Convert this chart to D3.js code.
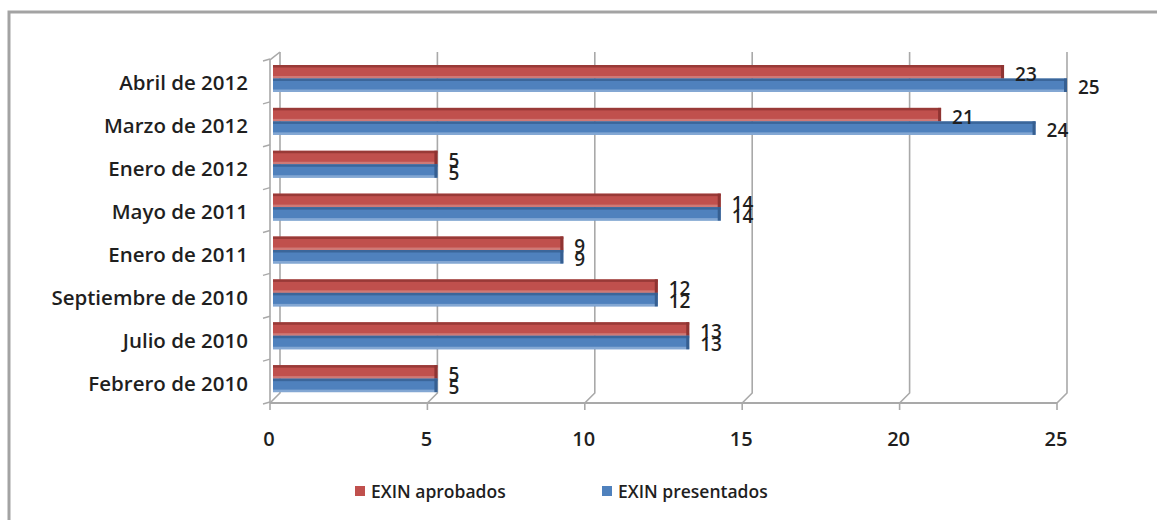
<!DOCTYPE html>
<html>
<head>
<meta charset="utf-8">
<script src="https://cdn.jsdelivr.net/npm/d3@7"></script>
<style>
  body { margin: 0; background: #fff; }
  svg text { font-family: "Open Sans", "Liberation Sans", sans-serif; font-weight: 600; fill: #1f1f1f; }
</style>
</head>
<body>
<svg class="chart" width="1157" height="520"></svg>
<script>
// categories, top to bottom as drawn
var categories = [
  "Abril de 2012", "Marzo de 2012", "Enero de 2012", "Mayo de 2011",
  "Enero de 2011", "Septiembre de 2010", "Julio de 2010", "Febrero de 2010"
];
var aprobados   = [23, 21, 5, 14, 9, 12, 13, 5];
var presentados = [25, 24, 5, 14, 9, 12, 13, 5];
var seriesNames = ["EXIN aprobados", "EXIN presentados"];
var xTicks = [0, 5, 10, 15, 20, 25];

(function() {
  var svg = d3.select(".chart");

  var xBack = d3.scaleLinear().domain([0, 25]).range([280, 1067]);
  var xFront = d3.scaleLinear().domain([0, 25]).range([270, 1057]);
  var y = d3.scaleBand().domain(categories).range([59, 402]);

  var wallTop = 52, wallBottom = 393, floorY = 403;
  var gridColor = "#a9a9a9";

  // outer frame
  svg.append("rect")
    .attr("x", 9).attr("y", 12)
    .attr("width", 1300).attr("height", 700)
    .attr("fill", "none")
    .attr("stroke", "#a3a3a3")
    .attr("stroke-width", 3);

  // back wall gridlines, bending onto the floor
  svg.append("g").selectAll("path")
    .data(xTicks)
    .enter().append("path")
    .attr("fill", "none")
    .attr("stroke", gridColor)
    .attr("stroke-width", 1.6)
    .attr("d", function(d) {
      return "M" + xBack(d) + "," + wallTop +
             "L" + xBack(d) + "," + wallBottom +
             "L" + xFront(d) + "," + floorY;
    });

  // floor front edge + ticks
  svg.append("line")
    .attr("x1", xFront(0)).attr("x2", xFront(25))
    .attr("y1", floorY).attr("y2", floorY)
    .attr("stroke", gridColor).attr("stroke-width", 1.8);

  svg.append("g").selectAll("line")
    .data(xTicks)
    .enter().append("line")
    .attr("x1", function(d) { return xFront(d); })
    .attr("x2", function(d) { return xFront(d); })
    .attr("y1", floorY).attr("y2", floorY + 7)
    .attr("stroke", gridColor).attr("stroke-width", 1.6);

  // left side wall front edge + category ticks
  svg.append("path")
    .attr("fill", "none")
    .attr("stroke", gridColor)
    .attr("stroke-width", 1.6)
    .attr("d", "M" + xBack(0) + "," + wallTop + "L" + xFront(0) + "," + (wallTop + 8) +
               "L" + xFront(0) + "," + floorY);

  var bounds = categories.map(function(c) { return y(c); }).concat([y.range()[1]]);
  svg.append("g").selectAll("line")
    .data(bounds)
    .enter().append("line")
    .attr("x1", xFront(0) - 7).attr("x2", xFront(0))
    .attr("y1", function(d) { return d + 2; })
    .attr("y2", function(d) { return d; })
    .attr("stroke", gridColor).attr("stroke-width", 1.4);

  // bars
  var barH = 13.5, barTop = 6;
  var barStart = xFront(0) + 3;
  var series = [
    { name: seriesNames[0], values: aprobados, fill: "#c0504d", edge: "#8f3432", shade: "#d58a88", dy: 0 },
    { name: seriesNames[1], values: presentados, fill: "#4f81bd", edge: "#365f91", shade: "#9ab8dd", dy: barH }
  ];

  var rows = svg.append("g").selectAll("g")
    .data(categories)
    .enter().append("g")
    .attr("transform", function(d) { return "translate(0," + y(d) + ")"; });

  series.forEach(function(s) {
    rows.append("rect")
      .attr("x", barStart)
      .attr("y", barTop + s.dy)
      .attr("width", function(d, i) { return xBack(s.values[i]) - barStart; })
      .attr("height", barH)
      .attr("fill", s.fill);
    // darker top edge
    rows.append("rect")
      .attr("x", barStart)
      .attr("y", barTop + s.dy)
      .attr("width", function(d, i) { return xBack(s.values[i]) - barStart; })
      .attr("height", 2.5)
      .attr("fill", s.edge)
      .attr("opacity", 0.8);
    // lighter bottom edge
    rows.append("rect")
      .attr("x", barStart)
      .attr("y", barTop + s.dy + barH - 2.5)
      .attr("width", function(d, i) { return xBack(s.values[i]) - barStart; })
      .attr("height", 2.5)
      .attr("fill", s.shade)
      .attr("opacity", 0.7);
    // end cap
    rows.append("rect")
      .attr("x", function(d, i) { return xBack(s.values[i]) - 3; })
      .attr("y", barTop + s.dy)
      .attr("width", 3)
      .attr("height", barH)
      .attr("fill", s.edge);
  });

  // data labels (the two series stack over each other, as in the original)
  series.forEach(function(s, k) {
    rows.append("text")
      .attr("x", function(d, i) { return xBack(s.values[i]) + 11; })
      .attr("y", k === 0 ? 15 : 28)
      .attr("dominant-baseline", "central")
      .style("font-size", "19px")
      .text(function(d, i) { return s.values[i]; });
  });

  // category labels
  rows.append("text")
    .attr("x", 248)
    .attr("y", y.bandwidth() / 2 + 2)
    .attr("text-anchor", "end")
    .attr("dominant-baseline", "central")
    .style("font-size", "20.5px")
    .text(function(d) { return d; });

  // x tick labels
  svg.append("g").selectAll("text")
    .data(xTicks)
    .enter().append("text")
    .attr("x", function(d) { return xFront(d) - 1; })
    .attr("y", 438)
    .attr("text-anchor", "middle")
    .attr("dominant-baseline", "central")
    .style("font-size", "20px")
    .text(function(d) { return d; });

  // legend
  var legendX = [355, 602];
  var legend = svg.append("g").selectAll("g")
    .data(series)
    .enter().append("g")
    .attr("transform", function(d, i) { return "translate(" + legendX[i] + ",491)"; });

  legend.append("rect")
    .attr("x", 0).attr("y", -5)
    .attr("width", 10).attr("height", 10)
    .attr("fill", function(d) { return d.fill; });

  legend.append("text")
    .attr("x", 16)
    .attr("dominant-baseline", "central")
    .style("font-size", "17.5px")
    .text(function(d) { return d.name; });
})();
</script>
</body>
</html>
